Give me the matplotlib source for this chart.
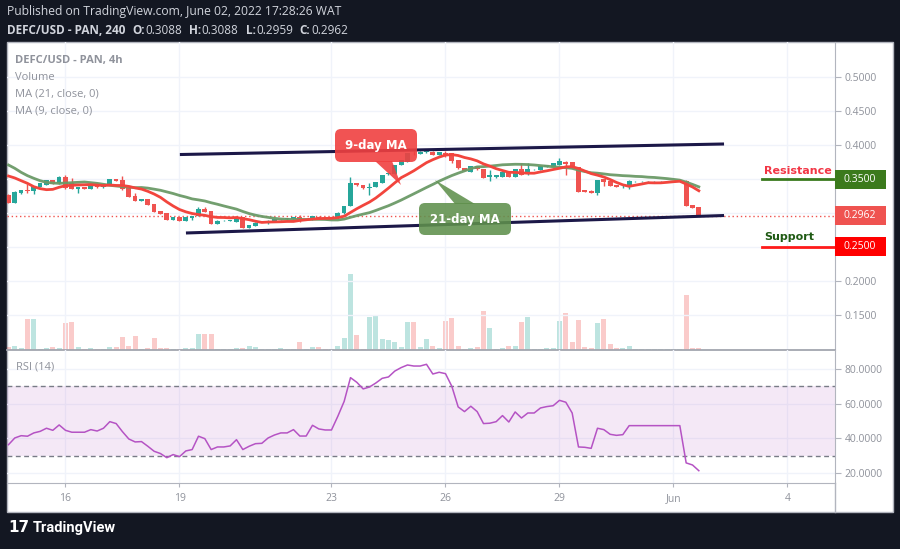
import pandas as pd
import matplotlib
matplotlib.use("Agg")
import matplotlib.pyplot as plt
import matplotlib.transforms as mtransforms
from matplotlib.patches import Rectangle, FancyBboxPatch, Polygon
from matplotlib.lines import Line2D

plt.rcParams['font.family'] = ['Open Sans', 'DejaVu Sans']

# DEFC/USD 4h bars, first bar May 14 12:00 (x axis = days since May 16)
opens = [0.3265, 0.3152, 0.3290, 0.3338, 0.3328, 0.3387, 0.3416, 0.3485, 0.3436, 0.3534,
         0.3436, 0.3357, 0.3378, 0.3357, 0.3412, 0.3378, 0.3412, 0.3500, 0.3485, 0.3363,
         0.3250, 0.3181, 0.3201, 0.3132, 0.3029, 0.2995, 0.2897, 0.2936, 0.2887, 0.2926,
         0.2956, 0.3063, 0.3029, 0.2838, 0.2882, 0.2887, 0.2868, 0.2936, 0.2784, 0.2809,
         0.2857, 0.2848, 0.2878, 0.2907, 0.2907, 0.2907, 0.2936, 0.2912, 0.2897, 0.2946,
         0.2920, 0.2916, 0.2922, 0.2995, 0.3103, 0.3436, 0.3412, 0.3363, 0.3387, 0.3446,
         0.3569, 0.3574, 0.3706, 0.3755, 0.3885, 0.3870, 0.3890, 0.3902, 0.3853, 0.3887,
         0.3877, 0.3779, 0.3657, 0.3608, 0.3691, 0.3643, 0.3525, 0.3525, 0.3534, 0.3608,
         0.3534, 0.3643, 0.3569, 0.3643, 0.3632, 0.3681, 0.3681, 0.3706, 0.3755, 0.3745,
         0.3672, 0.3338, 0.3328, 0.3299, 0.3495, 0.3475, 0.3412, 0.3392, 0.3387, 0.3466,
         0.3466, 0.3466, 0.3466, 0.3466, 0.3466, 0.3466, 0.3466, 0.3475, 0.3118, 0.3088]
highs = [0.3280, 0.3318, 0.3345, 0.3430, 0.3400, 0.3445, 0.3490, 0.3490, 0.3545, 0.3559,
         0.3510, 0.3385, 0.3385, 0.3418, 0.3418, 0.3432, 0.3505, 0.3505, 0.3544, 0.3368,
         0.3299, 0.3206, 0.3206, 0.3138, 0.3034, 0.3000, 0.2941, 0.2941, 0.2941, 0.2961,
         0.3093, 0.3093, 0.3034, 0.2892, 0.2892, 0.2890, 0.2941, 0.2941, 0.2829, 0.2862,
         0.2860, 0.2892, 0.2912, 0.2910, 0.2931, 0.2941, 0.2971, 0.2916, 0.2961, 0.2951,
         0.2924, 0.2920, 0.3009, 0.3108, 0.3525, 0.3441, 0.3417, 0.3436, 0.3461, 0.3564,
         0.3588, 0.3711, 0.3784, 0.3885, 0.3910, 0.3907, 0.3926, 0.3907, 0.3902, 0.3916,
         0.3882, 0.3784, 0.3662, 0.3696, 0.3696, 0.3648, 0.3632, 0.3564, 0.3613, 0.3613,
         0.3648, 0.3740, 0.3730, 0.3647, 0.3696, 0.3711, 0.3735, 0.3804, 0.3760, 0.3750,
         0.3677, 0.3343, 0.3333, 0.3490, 0.3500, 0.3480, 0.3417, 0.3426, 0.3480, 0.3470,
         0.3470, 0.3470, 0.3470, 0.3470, 0.3470, 0.3470, 0.3470, 0.3480, 0.3123, 0.3088]
lows = [0.3145, 0.3145, 0.3280, 0.3295, 0.3280, 0.3380, 0.3410, 0.3420, 0.3430, 0.3355,
        0.3350, 0.3300, 0.3350, 0.3350, 0.3372, 0.3372, 0.3405, 0.3470, 0.3345, 0.3235,
        0.3175, 0.3176, 0.3112, 0.3010, 0.2980, 0.2892, 0.2892, 0.2882, 0.2882, 0.2897,
        0.2950, 0.3010, 0.2833, 0.2833, 0.2878, 0.2884, 0.2862, 0.2774, 0.2779, 0.2804,
        0.2854, 0.2843, 0.2873, 0.2904, 0.2902, 0.2902, 0.2873, 0.2908, 0.2892, 0.2911,
        0.2912, 0.2912, 0.2917, 0.2990, 0.3098, 0.3402, 0.3358, 0.3265, 0.3382, 0.3441,
        0.3564, 0.3569, 0.3701, 0.3750, 0.3850, 0.3865, 0.3885, 0.3848, 0.3848, 0.3828,
        0.3730, 0.3652, 0.3613, 0.3603, 0.3638, 0.3514, 0.3470, 0.3520, 0.3529, 0.3529,
        0.3529, 0.3554, 0.3564, 0.3639, 0.3627, 0.3676, 0.3676, 0.3701, 0.3559, 0.3667,
        0.3308, 0.3308, 0.3294, 0.3265, 0.3397, 0.3392, 0.3382, 0.3372, 0.3358, 0.3462,
        0.3462, 0.3462, 0.3462, 0.3462, 0.3462, 0.3462, 0.3462, 0.3102, 0.3073, 0.2959]
closes = [0.3152, 0.3309, 0.3338, 0.3330, 0.3397, 0.3436, 0.3485, 0.3426, 0.3534, 0.3363,
          0.3357, 0.3378, 0.3357, 0.3412, 0.3378, 0.3426, 0.3500, 0.3475, 0.3353, 0.3240,
          0.3181, 0.3201, 0.3118, 0.3015, 0.2985, 0.2897, 0.2936, 0.2887, 0.2936, 0.2956,
          0.3063, 0.3015, 0.2838, 0.2887, 0.2887, 0.2887, 0.2936, 0.2779, 0.2824, 0.2857,
          0.2857, 0.2887, 0.2907, 0.2907, 0.2926, 0.2936, 0.2912, 0.2912, 0.2956, 0.2916,
          0.2916, 0.2916, 0.3004, 0.3103, 0.3436, 0.3407, 0.3363, 0.3387, 0.3456, 0.3559,
          0.3583, 0.3706, 0.3779, 0.3880, 0.3877, 0.3902, 0.3921, 0.3853, 0.3897, 0.3853,
          0.3769, 0.3657, 0.3618, 0.3691, 0.3643, 0.3519, 0.3559, 0.3559, 0.3608, 0.3534,
          0.3643, 0.3559, 0.3643, 0.3643, 0.3691, 0.3706, 0.3730, 0.3769, 0.3721, 0.3672,
          0.3313, 0.3313, 0.3299, 0.3485, 0.3461, 0.3397, 0.3387, 0.3402, 0.3475, 0.3466,
          0.3466, 0.3466, 0.3466, 0.3466, 0.3466, 0.3466, 0.3466, 0.3107, 0.3078, 0.2962]
volumes = [9, 12, 6, 93, 93, 3, 6, 9, 6, 81,
           84, 9, 3, 6, 3, 3, 9, 9, 39, 12,
           42, 3, 6, 36, 6, 6, 3, 3, 6, 6,
           48, 48, 48, 3, 3, 3, 6, 6, 12, 9,
           3, 3, 3, 6, 3, 3, 24, 3, 9, 9,
           3, 3, 12, 36, 228, 45, 3, 99, 102, 33,
           30, 24, 9, 84, 84, 9, 33, 12, 6, 87,
           96, 12, 3, 6, 9, 117, 66, 3, 6, 12,
           12, 84, 99, 3, 3, 6, 6, 87, 111, 24,
           90, 9, 6, 81, 93, 18, 6, 6, 12, 3,
           3, 3, 3, 3, 3, 3, 3, 165, 6, 6]
rsi = [36.3, 40.2, 41.5, 41.2, 43.1, 44.0, 45.8, 44.6, 47.7, 44.6,
       43.5, 43.5, 43.5, 45.0, 44.2, 45.8, 49.6, 48.5, 43.8, 39.6,
       37.9, 38.1, 35.4, 32.5, 31.2, 28.8, 30.6, 29.4, 32.7, 33.5,
       41.2, 39.8, 33.5, 35.0, 35.0, 35.6, 39.2, 33.5, 35.4, 36.9,
       37.1, 40.2, 41.9, 43.1, 43.1, 45.0, 41.3, 41.3, 47.5, 45.4,
       44.8, 44.8, 52.7, 61.3, 75.0, 72.3, 68.5, 69.6, 71.9, 74.6,
       75.4, 78.8, 80.8, 82.3, 81.7, 81.7, 82.7, 77.1, 78.1, 77.3,
       70.0, 58.1, 55.4, 58.5, 55.4, 48.5, 48.7, 49.6, 53.1, 49.4,
       55.2, 51.7, 54.6, 54.6, 57.5, 58.3, 58.8, 61.9, 60.8, 54.6,
       35.0, 34.8, 34.2, 45.8, 45.0, 42.3, 41.7, 42.1, 47.3, 47.3,
       47.3, 47.3, 47.3, 47.3, 47.3, 47.3, 47.3, 25.8, 24.6, 21.3]
# moving-average values before the rolling window is full
ma9_head = [0.3544, 0.3515, 0.3475, 0.3436, 0.3387, 0.3358, 0.3343, 0.3348]
ma21_head = [0.3706, 0.3657, 0.3598, 0.3549, 0.3510, 0.3475, 0.3451, 0.3441, 0.3436, 0.3441,
             0.3446, 0.3451, 0.3456, 0.3446, 0.3436, 0.3422, 0.3407, 0.3397, 0.3387, 0.3380]

upper_x, upper_y = [3.01, 17.33], [0.3860, 0.4015]
lower_x, lower_y = [3.17, 17.33], [0.2706, 0.2963]
resistance, support = 0.35, 0.25
date_ticks = [0, 3, 7, 10, 13, 16, 19]
date_labels = ["16", "19", "23", "26", "29", "Jun", "4"]
price_ticks = [0.15, 0.20, 0.25, 0.30, 0.35, 0.40, 0.45, 0.50]
rsi_ticks = [20, 40, 60, 80]

n = len(closes)
bar_t = [-1.5 + i / 6 for i in range(n)]
cl = pd.Series(closes)
ma9 = cl.rolling(9).mean()
ma9.iloc[:len(ma9_head)] = ma9_head
ma21 = cl.rolling(21).mean()
ma21.iloc[:len(ma21_head)] = ma21_head

UP, DOWN = '#26a69a', '#ef5350'
GRID = '#f0f3fa'
AXC = '#b2b5be'
TXT = '#8f929b'

W, H = 900, 549
fig = plt.figure(figsize=(W / 100, H / 100), dpi=100, facecolor='#131722')
px = mtransforms.Affine2D().scale(1 / 100, -1 / 100).translate(0, H / 100) + fig.dpi_scale_trans


def frac(x0, y0, x1, y1):
    return [x0 / W, 1 - y1 / H, (x1 - x0) / W, (y1 - y0) / H]


fig.patches.append(Rectangle((7, 42), 886, 470, transform=px, facecolor='white',
                             edgecolor=AXC, lw=1, zorder=-5))

xlim = (-1.539, 20.25)
ax_vol = fig.add_axes(frac(7, 42, 835, 350))
ax = fig.add_axes(frac(7, 42, 835, 350), sharex=ax_vol)
axr = fig.add_axes(frac(7, 350, 835, 483), sharex=ax_vol)

# volume
ax_vol.patch.set_visible(False)
vcol = [UP if c >= o else DOWN for o, c in zip(opens, closes)]
ax_vol.bar(bar_t, volumes, width=0.8 / 6, color=vcol, alpha=0.3, lw=0)
ax_vol.set_ylim(0, max(volumes) * 308 / 76)
ax_vol.set_xlim(*xlim)
ax_vol.axis('off')

# price pane
ax.patch.set_visible(False)
ax.set_ylim(0.0985, 0.5515)
ax.set_xticks(date_ticks)
ax.tick_params(axis='x', length=0, labelbottom=False)
ax.yaxis.tick_right()
ax.set_yticks(price_ticks)
ax.set_yticklabels(['' if p in (0.25, 0.30, 0.35) else f'{p:.4f}' for p in price_ticks])
ax.tick_params(axis='y', length=4, color=AXC, labelcolor=TXT, labelsize=7.5, pad=3)
ax.grid(color=GRID, lw=1)
ax.set_axisbelow(True)
for s in ['top', 'left']:
    ax.spines[s].set_visible(False)
ax.spines['right'].set_color(AXC)
ax.spines['bottom'].set_color('#a3a6af')
ax.spines['bottom'].set_linewidth(1.3)

ccol = [UP if c >= o else DOWN for o, c in zip(opens, closes)]
ax.vlines(bar_t, lows, highs, colors=ccol, lw=1, zorder=3)
bottoms = [min(o, c) for o, c in zip(opens, closes)]
heights = [max(abs(c - o), 0.0007) for o, c in zip(opens, closes)]
ax.bar(bar_t, heights, bottom=bottoms, width=0.74 / 6, color=ccol, lw=0, zorder=3)

ax.plot(bar_t, ma21, color='#6b9a67', lw=2, zorder=4, alpha=0.95)
ax.plot(bar_t, ma9, color='#f2453d', lw=2, zorder=4)
ax.axhline(closes[-1], color=DOWN, ls=(0, (1, 2)), lw=1, zorder=2)

ax.plot(upper_x, upper_y, color='#1c1848', lw=2.2, zorder=5, solid_capstyle='butt')
ax.plot(lower_x, lower_y, color='#1c1848', lw=2.2, zorder=5, solid_capstyle='butt')
ax.plot([18.33, xlim[1]], [resistance, resistance], color='#3a7a1e', lw=2, zorder=5)
ax.plot([18.33, xlim[1]], [support, support], color='#ff1a1a', lw=2, zorder=5)

bt = mtransforms.blended_transform_factory(ax.transAxes, ax.transData)
for val, col in [(resistance, '#3b7a1c'), (closes[-1], '#ef5350'), (support, '#ff0000')]:
    ax.add_patch(Rectangle((1.0, val - 9.5 / 680), 51 / 828, 19 / 680, transform=bt,
                           facecolor=col, lw=0, clip_on=False, zorder=6))
    ax.text(1.0 + 9 / 828, val, f'{val:.4f}', transform=bt, color='white', fontsize=7.5,
            va='center', ha='left', clip_on=False, zorder=7)

# RSI pane
axr.patch.set_visible(False)
axr.set_ylim(14.2, 90.95)
axr.set_xlim(*xlim)
axr.axhspan(30, 70, color='#9c27b0', alpha=0.1, lw=0)
axr.axhline(30, color='#787b86', ls=(0, (3.5, 2.5)), lw=1)
axr.axhline(70, color='#787b86', ls=(0, (3.5, 2.5)), lw=1)
axr.plot(bar_t, rsi, color='#b553c4', lw=1.1)
axr.yaxis.tick_right()
axr.set_yticks(rsi_ticks)
axr.set_yticklabels([f'{v:.4f}' for v in rsi_ticks])
axr.tick_params(axis='y', length=4, color=AXC, labelcolor=TXT, labelsize=7.5, pad=3)
axr.set_xticks(date_ticks)
axr.set_xticklabels(date_labels)
axr.tick_params(axis='x', length=3, color=AXC, labelcolor=TXT, labelsize=7.5, pad=4)
axr.grid(color=GRID, lw=1)
axr.set_axisbelow(True)
for s in ['top', 'left']:
    axr.spines[s].set_visible(False)
axr.spines['right'].set_color(AXC)
axr.spines['bottom'].set_color(AXC)
fig.lines.append(Line2D([835, 835], [483, 512], transform=px, color=AXC, lw=1))

# callouts
fig.patches.append(FancyBboxPatch((335, 129), 82, 33, boxstyle='round,pad=0,rounding_size=6',
                                  transform=px, facecolor='#f04040', edgecolor='none', alpha=0.9, zorder=10))
fig.patches.append(Polygon([(375, 161), (392, 161), (401, 185)], closed=True, transform=px,
                           facecolor='#f04040', edgecolor='none', alpha=0.9, zorder=10))
fig.text(376, 146, '9-day MA', transform=px, color='white', fontsize=8.5, fontweight='bold',
         family='DejaVu Sans', ha='center', va='center', zorder=11)
fig.patches.append(FancyBboxPatch((419, 203), 92, 32, boxstyle='round,pad=0,rounding_size=6',
                                  transform=px, facecolor='#5f904c', edgecolor='none', alpha=0.88, zorder=10))
fig.patches.append(Polygon([(455, 204), (475, 204), (435, 180)], closed=True, transform=px,
                           facecolor='#5f904c', edgecolor='none', alpha=0.88, zorder=10))
fig.text(465, 219, '21-day MA', transform=px, color='white', fontsize=8.5, fontweight='bold',
         family='DejaVu Sans', ha='center', va='center', zorder=11)

fig.text(764, 171, 'Resistance', transform=px, color='#f23645', fontsize=8, fontweight='bold',
         family='DejaVu Sans', ha='left', va='center')
fig.text(764, 237, 'Support', transform=px, color='#1f5a14', fontsize=8, fontweight='bold',
         family='DejaVu Sans', ha='left', va='center')

# pane legends
fig.text(15, 61, 'DEFC/USD - PAN, 4h', transform=px, color=TXT, fontsize=8, fontweight='bold', va='center')
fig.text(15, 78, 'Volume', transform=px, color=TXT, fontsize=8, va='center')
fig.text(15, 94, 'MA (21, close, 0)', transform=px, color=TXT, fontsize=8, va='center')
fig.text(15, 111, 'MA (9, close, 0)', transform=px, color=TXT, fontsize=8, va='center')
fig.text(16, 367, 'RSI (14)', transform=px, color=TXT, fontsize=8, va='center')

# header
HC = '#d1d4dc'
fig.text(7, 12, 'Published on TradingView.com, June 02, 2022 17:28:26 WAT', transform=px,
         color=HC, fontsize=8.7, va='center')
pieces = [("DEFC/USD - PAN, 240", 7, 'bold'), ("O:", 132, 'bold'), ("0.3088", 145, 'normal'),
          ("H:", 189, 'bold'), ("0.3088", 201, 'normal'), ("L:", 246, 'bold'),
          ("0.2959", 256, 'normal'), ("C:", 299, 'bold'), ("0.2962", 311, 'normal')]
for s, x, w in pieces:
    fig.text(x, 30, s, transform=px, color=HC, fontsize=8.5, fontweight=w, va='center')

# footer logo
fig.text(8, 528, '17', transform=px, color='white', fontsize=11, fontweight='heavy',
         family='DejaVu Sans', va='center')
fig.text(33, 528, 'TradingView', transform=px, color='white', fontsize=10.5, fontweight='bold',
         family='Roboto', va='center')

fig.savefig('out.png', dpi=100, facecolor=fig.get_facecolor())
